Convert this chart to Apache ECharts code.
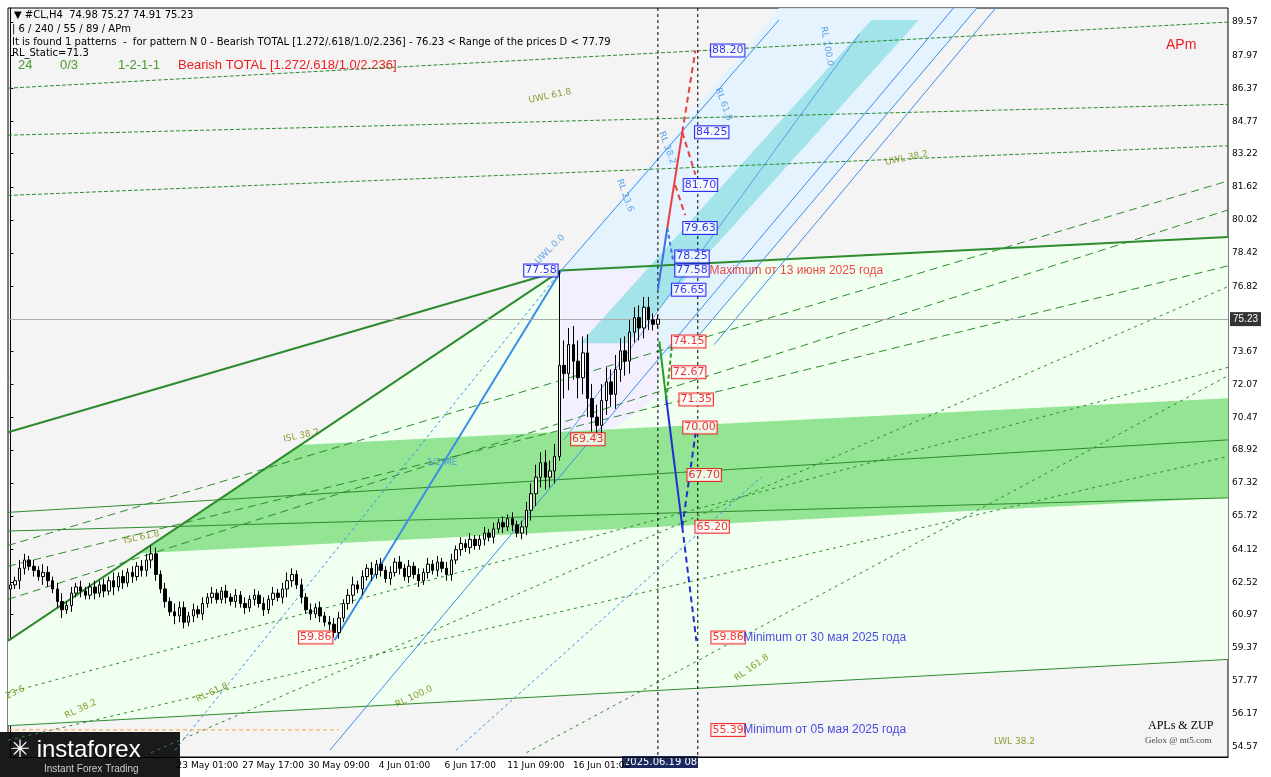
<!DOCTYPE html>
<html><head><meta charset="utf-8">
<script src="https://cdn.jsdelivr.net/npm/echarts@6/dist/echarts.min.js"></script>
<style>html,body{margin:0;padding:0;background:#000;}#c{width:1271px;height:777px;}</style>
</head><body><div id="c"></div>
<script>
// ---- data ----
const closes = [62.4,62.6,63.2,63.6,63.3,63.1,62.8,63.0,62.6,62.2, 61.6,61.2,61.4,62.0,62.3,62.1,61.9,62.3,62.0,62.4,
62.1,62.6,62.3,62.8,62.5,63.0,62.8,63.3,63.1,63.6, 63.9,62.9,62.2,61.6,61.1,60.9,61.3,60.6,60.9,61.2,
61.0,61.5,61.8,62.0,61.7,62.1,61.8,61.6,61.9,61.5, 61.3,61.7,61.9,61.5,61.2,61.7,62.0,61.8,62.2,62.6,
62.9,62.4,61.8,61.2,61.0,61.3,60.9,60.6,60.5,60.1, 60.8,61.5,61.9,62.4,62.2,62.8,63.2,62.9,63.4,63.1,
62.7,63.0,63.5,63.2,62.8,63.3,62.9,62.6,63.0,63.4, 63.1,63.5,63.2,62.9,63.6,64.1,64.4,64.2,64.6,64.3,
64.6,64.9,64.7,65.1,65.4,65.2,65.6,65.3,64.9,65.2, 66.0,66.8,67.6,68.3,67.6,67.9,68.6,73.0,72.6,74.0,
73.2,72.4,73.6,71.4,70.5,70.1,71.3,72.2,71.6,72.8, 73.7,73.2,74.6,75.3,74.8,75.8,75.2,74.98,75.23];
const firstOpen = 62.2;
const wicks = [0.3,0.2,0.4,0.3,0.2,0.3,0.2,0.4,0.3,0.2, 0.3,0.4,0.2,0.3,0.2,0.3,0.2,0.2,0.3,0.2,
0.3,0.2,0.4,0.2,0.3,0.2,0.3,0.2,0.3,0.3, 0.4,0.3,0.2,0.3,0.2,0.4,0.3,0.3,0.2,0.3,
0.2,0.3,0.2,0.3,0.2,0.2,0.3,0.2,0.3,0.2, 0.3,0.2,0.3,0.2,0.3,0.2,0.3,0.2,0.3,0.4,
0.3,0.2,0.3,0.2,0.3,0.2,0.3,0.2,0.3,0.3, 0.3,0.2,0.3,0.4,0.2,0.3,0.2,0.3,0.2,0.3,
0.2,0.3,0.2,0.3,0.2,0.3,0.2,0.3,0.2,0.3, 0.2,0.3,0.2,0.3,0.3,0.2,0.3,0.2,0.3,0.2,
0.2,0.3,0.2,0.3,0.2,0.3,0.2,0.3,0.2,0.3, 0.4,0.5,0.6,0.5,0.6,0.5,0.6,0.4,1.2,0.8,
0.9,1.0,0.8,0.9,0.7,0.6,0.8,0.7,0.6,0.7, 0.6,0.7,0.6,0.5,0.6,0.5,0.5,0.3,0.2];
const highOverride = {117: 77.58};
const lowOverride = {69: 59.86, 125: 69.43, 117: 68.4};
const xTickLabels = {42:'23 May 01:00',56:'27 May 17:00',70:'30 May 09:00',84:'4 Jun 01:00',98:'6 Jun 17:00',112:'11 Jun 09:00',126:'16 Jun 01:00'};
const yTicks = [54.57,56.17,57.77,59.37,60.97,62.52,64.12,65.72,67.32,68.92,70.47,72.07,73.67,76.82,78.42,80.02,81.62,83.22,84.77,86.37,87.97,89.57];
const lastPrice = 75.23;
const nCat = 260;
const levelBoxes = [[149.3,88.20,'88.20','#0000ee'],[145.9,84.25,'84.25','#0000ee'],[143.5,81.70,'81.70','#0000ee'],[143.4,79.63,'79.63','#0000ee'],
 [141.7,78.25,'78.25','#0000ee'],[141.7,77.58,'77.58','#0000ee'],[141.0,76.65,'76.65','#0000ee'],
 [141.0,74.15,'74.15','#ee0000'],[141.0,72.67,'72.67','#ee0000'],[142.6,71.35,'71.35','#ee0000'],[143.4,70.00,'70.00','#ee0000'],
 [144.3,67.70,'67.70','#ee0000'],[146.0,65.20,'65.20','#ee0000'],[149.4,59.86,'59.86','#ee0000'],[149.4,55.39,'55.39','#ee0000'],
 [109.5,77.58,'77.58','#0000ee'],[119.5,69.43,'69.43','#ee0000'],[61.5,59.86,'59.86','#ee0000']];
const lightGreenPoly = [[-0.5,59.7],[117.4,77.58],[259.5,79.2],[259.5,58.8],[-0.5,55.6]];
const greenBand = [[27.7,63.93],[61.7,69.15],[259.5,71.41],[259.5,66.6]];
const lightBlueBand = [[117.4,77.58],[163.8,90.25],[206,90.25],[146.8,74.46],[123,71.0]];
const cyanBand = [[121.5,74.07],[183.5,89.67],[193.6,89.67],[131.5,74.07]];
const lavender = [[117.4,77.58],[138,77.58],[138,71.5],[125,69.4],[117.4,69.4]];
const lines = [
 [-0.5,59.7,117.4,77.58,'#2e8b2e',2,'solid'],[117.4,77.58,259.5,79.2,'#2e8b2e',2,'solid'],[-0.5,69.77,117.4,77.58,'#2e8b2e',2,'solid'],
 [-0.5,65.9,259.5,69.4,'#2e8b2e',1,'solid'],[-0.5,65.0,259.5,66.6,'#2e8b2e',1,'solid'],[-0.5,55.6,259.5,58.8,'#2e8b2e',1,'solid'],
 [-0.5,86.38,259.5,89.57,'#2e8b2e',1,'dashed'],[-0.5,84.11,259.5,85.6,'#2e8b2e',1,'dashed'],[-0.5,81.2,259.5,83.6,'#2e8b2e',1,'dashed'],
 [-0.5,64.3,259.5,81.9,'#2e8b2e',1,[8,5]],[-0.5,61.7,259.5,80.5,'#2e8b2e',1,[8,5]],[-0.5,63.3,259.5,77.8,'#2e8b2e',1,[8,5]],
 [-0.5,57.2,259.5,72.9,'#2e8b2e',1,[3,4]],[30,54.3,259.5,76.8,'#2e8b2e',1,[3,4]],[110,54.3,259.5,72.5,'#2e8b2e',1,[3,4]],[-0.5,54.9,259.5,68.6,'#2e8b2e',1,[3,4]],
 [69.1,59.73,117.4,77.58,'#3a8ee6',2,'solid'],[35.1,54.42,117.4,77.58,'#3a8ee6',1,[3,3]],[117.4,77.58,163.8,89.67,'#3a8ee6',1,'solid'],
 [68.1,54.42,201,90.25,'#3a8ee6',1,'solid'],[146.8,74.46,206,90.25,'#3a8ee6',1,'solid'],[150,74.0,210,90.25,'#3a8ee6',1,'solid'],
 [95,54.42,160,67.6,'#3a8ee6',1,[3,3]],[118,69.4,181,89.0,'#3a8ee6',0.8,'solid'],
 [138,90.25,138,54.09,'#000',1,[3,3]],[146.5,90.25,146.5,54.09,'#000',1,[3,3]],
 [140,79.63,143.2,84.25,'#e84040',2,'solid'],[143.2,84.25,146,88.2,'#e84040',2,[6,4]],[143.2,84.25,146,82.2,'#e84040',2,[6,4]],[141.7,81.7,143.8,80.25,'#e84040',2,[6,4]],
 [138,76.65,140,79.63,'#4070e0',2,'solid'],[140,79.63,141.3,78.0,'#4070e0',2,[4,3]],
 [138.3,74.15,139.8,71.35,'#2a9a2a',2,'solid'],[139.8,71.35,141,74.0,'#2a9a2a',2,[4,3]],
 [139.8,71.35,143.2,65.2,'#2030d0',2,'solid'],[143.2,65.2,146.2,59.7,'#2030d0',2,[6,4]],[143.2,65.2,146.2,70.0,'#2030d0',2,[6,4]],
 [-0.5,55.4,70,55.4,'#ffa040',1,[4,3]]
];
const lineLabels = [[115,86.0,'UWL 61.8','#6a8a00',12],[191,83.0,'UWL 38.2','#6a8a00',12],[62,69.6,'ISL 38.2','#6a8a00',12],[28,64.7,'ISL 61.8','#6a8a00',12],
 [92,68.3,'1/2 ME','#3a8ee6',0],[115,78.6,'UWL 0.0','#3a8ee6',45],[131,81.2,'RL 23.6','#3a8ee6',-70],[140,83.5,'RL 38.2','#3a8ee6',-70],[152,85.6,'RL 61.8','#3a8ee6',-70],[174,88.4,'RL 100.0','#3a8ee6',-80],
 [158,58.4,'RL 161.8','#6a8a00',35],[86,57.0,'RL 100.0','#6a8a00',25],[43,57.2,'RL 61.8','#6a8a00',25],[15,56.4,'RL 38.2','#6a8a00',25],[1,57.2,'23.6','#6a8a00',25],[214,54.85,'LWL 38.2','#6a8a00',0]];

// ---- build ----
const cats = []; for (let i=0;i<nCat;i++) cats.push(i);
const candles = closes.map((c,i)=>{const o=i?closes[i-1]:firstOpen;const w=wicks[i];
 const h=highOverride[i]!==undefined?highOverride[i]:Math.max(o,c)+w; const l=lowOverride[i]!==undefined?lowOverride[i]:Math.min(o,c)-w; return [o,c,l,h];});
function polySeries(pts, fill, stroke){return {type:'custom',xAxisIndex:1,coordinateSystem:'cartesian2d',data:[0],silent:true,
 renderItem:(p,api)=>({type:'polygon',shape:{points:pts.map(q=>api.coord(q))},style:{fill:fill,stroke:stroke||null,lineWidth:1}}),z:1};}
const series = [
 polySeries(lightGreenPoly,'#f0fff0'),polySeries(lightBlueBand,'rgba(225,242,255,0.85)'),polySeries(lavender,'#f3efff'),
 polySeries(greenBand,'#93e493'),polySeries(cyanBand,'rgba(150,225,230,0.85)')];
lines.forEach(L=>series.push({type:'line',xAxisIndex:1,data:[[L[0],L[1]],[L[2],L[3]]],symbol:'none',silent:true,z:3,
 lineStyle:{color:L[4],width:L[5],type:L[6]}}));
series.push({type:'candlestick',xAxisIndex:0,data:candles,barWidth:3,z:5,
 itemStyle:{color:'#ffffff',color0:'#000000',borderColor:'#000',borderColor0:'#000',borderWidth:1},
 markLine:{symbol:'none',silent:true,data:[{yAxis:lastPrice}],lineStyle:{color:'#aaa',type:'solid',width:1},
  label:{position:'end',formatter:'75.23',color:'#fff',backgroundColor:'#333',padding:[2,3],fontSize:10,distance:2}}});
series.push({type:'scatter',xAxisIndex:1,symbolSize:0,z:8,data:levelBoxes.map(b=>({value:[b[0],b[1]],
 label:{show:true,position:'right',distance:0,formatter:b[2],color:b[3],borderColor:b[3],borderWidth:1,backgroundColor:'#fff',padding:[1,1,0,1],fontSize:11,fontFamily:'DejaVu Sans'}}))});
series.push({type:'scatter',xAxisIndex:1,symbolSize:0,z:8,data:lineLabels.map(b=>({value:[b[0],b[1]],
 label:{show:true,position:'inside',formatter:b[2],color:b[3],fontSize:9,rotate:b[4],fontFamily:'DejaVu Sans'}}))});
series.push({type:'scatter',xAxisIndex:1,symbolSize:0,z:8,data:[
 {value:[149.0,77.58],label:{show:true,position:'right',distance:0,formatter:'Maximum от 13 июня 2025 года',color:'#ee1c1c',fontSize:12}},
 {value:[156.2,59.86],label:{show:true,position:'right',distance:0,formatter:'Minimum от 30 мая 2025 года',color:'#1c1cdd',fontSize:12}},
 {value:[156.2,55.39],label:{show:true,position:'right',distance:0,formatter:'Minimum от 05 мая 2025 года',color:'#1c1cdd',fontSize:12}}]});

const chart = echarts.init(document.getElementById('c'));
chart.setOption({
 animation:false, backgroundColor:'#ffffff',
 grid:{left:8,right:43,top:8,bottom:20,backgroundColor:'#f4f4f4',show:true,borderColor:'#000',borderWidth:1},
 xAxis:[{type:'category',data:cats,boundaryGap:true,axisLine:{lineStyle:{color:'#000'}},axisTick:{show:false},splitLine:{show:false},
   axisLabel:{interval:0,hideOverlap:false,formatter:(v)=>xTickLabels[v]||'',fontSize:9,color:'#000',margin:4,fontFamily:'DejaVu Sans'}},
  {type:'value',min:-0.5,max:nCat-0.5,show:false}],
 yAxis:{type:'value',position:'right',min:54.09,max:90.25,scale:true,splitLine:{show:false},axisLine:{show:true,lineStyle:{color:'#000'}},
  axisTick:{show:true,customValues:yTicks,length:3},axisLabel:{customValues:yTicks,formatter:(v)=>v.toFixed(2),fontSize:9,color:'#000',margin:4,fontFamily:'DejaVu Sans'}},
 series:series,
 graphic:[
  {type:'text',left:14,top:10,style:{text:'▼ #CL,H4  74.98 75.27 74.91 75.23',font:'10px DejaVu Sans',fill:'#000'}},
  {type:'text',left:12,top:24,style:{text:'| 6 / 240 / 55 / 89 / APm',font:'10px DejaVu Sans',fill:'#000'}},
  {type:'text',left:12,top:37,style:{text:'It is found 1 patterns  -  for pattern N 0 - Bearish TOTAL [1.272/.618/1.0/2.236] - 76.23 < Range of the prices D < 77.79',font:'10px DejaVu Sans',fill:'#000'}},
  {type:'text',left:12,top:48,style:{text:'RL_Static=71.3',font:'10px DejaVu Sans',fill:'#000'}},
  {type:'text',left:18,top:59,style:{text:'24',font:'13px Liberation Sans',fill:'#4a9a2a'}},
  {type:'text',left:60,top:59,style:{text:'0/3',font:'13px Liberation Sans',fill:'#4a9a2a'}},
  {type:'text',left:118,top:59,style:{text:'1-2-1-1',font:'13px Liberation Sans',fill:'#4a9a2a'}},
  {type:'text',left:178,top:59,style:{text:'Bearish TOTAL [1.272/.618/1.0/2.236]',font:'13px Liberation Sans',fill:'#ee1c1c'}},
  {type:'text',left:1166,top:38,style:{text:'APm',font:'14px Liberation Sans',fill:'#ee1c1c'}},
  {type:'text',left:1148,top:720,style:{text:'APLs & ZUP',font:'12px Liberation Serif',fill:'#000'}},
  {type:'text',left:1145,top:736,style:{text:'Gelox @ mt5.com',font:'9px Liberation Serif',fill:'#444'}},
  {type:'rect',left:0,top:732,shape:{width:180,height:45},style:{fill:'#1a1a1a'}},
  {type:'text',left:10,top:738,style:{text:'✳ instaforex',font:'24px Liberation Sans',fill:'#fff'}},
  {type:'text',left:44,top:764,style:{text:'Instant Forex Trading',font:'10px Liberation Sans',fill:'#ccc'}},
  {type:'rect',left:622,top:756,shape:{width:76,height:12},style:{fill:'#1a2a60'}},
  {type:'text',left:624,top:757,style:{text:'2025.06.19 08:20',font:'10px DejaVu Sans',fill:'#fff'}}
 ]
});
</script></body></html>
